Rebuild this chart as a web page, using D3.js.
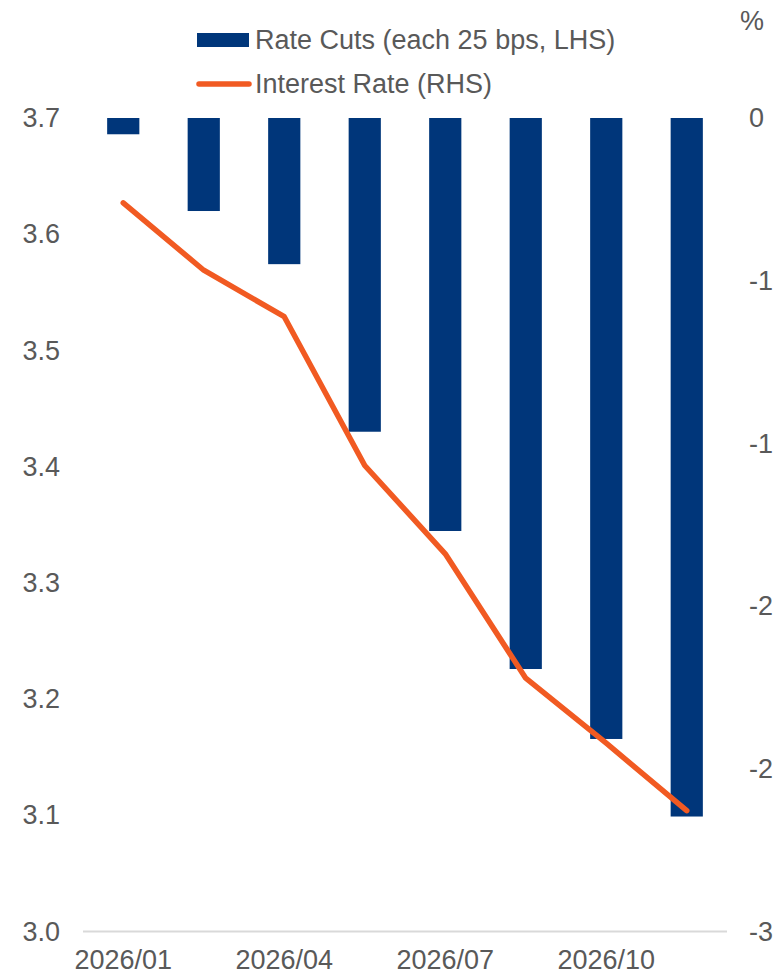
<!DOCTYPE html>
<html>
<head>
<meta charset="utf-8">
<script src="https://cdn.jsdelivr.net/npm/d3@7/dist/d3.min.js"></script>
<style>
  html, body { margin: 0; padding: 0; background: #fff; }
  svg text { font-family: "Liberation Sans", Arial, sans-serif; fill: #595959; }
</style>
</head>
<body>
<svg id="chart" width="780" height="975"></svg>
<script>
// Policy meeting dates (every other one is labelled on the axis)
const meetings = ["2026/01", "2026/03", "2026/04", "2026/06", "2026/07", "2026/09", "2026/10", "2026/12"];
// Cumulative rate cuts, counted in 25 bp steps (bars, hanging from 0)
const rateCuts = [-0.06, -0.343, -0.539, -1.157, -1.523, -2.032, -2.29, -2.576];
// Policy interest rate, % (line)
const interestRate = [3.627, 3.569, 3.529, 3.401, 3.325, 3.218, 3.162, 3.104];

const leftTicks = [3.0, 3.1, 3.2, 3.3, 3.4, 3.5, 3.6, 3.7];
const rightTicks = [0, -0.6, -1.2, -1.8, -2.4, -3.0];
const rightTickLabels = ["0", "-1", "-1", "-2", "-2", "-3"];

const seriesNames = ["Rate Cuts (each 25 bps, LHS)", "Interest Rate (RHS)"];

const BAR = "#00367a";
const LINE = "#f15a22";
const FONT = 27;

const svg = d3.select("#chart");
const plot = { left: 83, right: 727, top: 118, bottom: 931.5 };

const x = d3.scaleBand()
  .domain(meetings)
  .range([plot.left, plot.right])
  .paddingInner(0.6)
  .paddingOuter(0.3);

const yLeft = d3.scaleLinear().domain([3.0, 3.7]).range([plot.bottom, plot.top]);
const yRight = d3.scaleLinear().domain([-3, 0]).range([plot.bottom, plot.top]);

// Baseline along the bottom of the plot
svg.append("line")
  .attr("x1", plot.left).attr("x2", plot.right)
  .attr("y1", yLeft(3.0)).attr("y2", yLeft(3.0))
  .attr("stroke", "#d9d9d9").attr("stroke-width", 2);

// Left axis (interest rate levels)
const gLeft = svg.append("g")
  .attr("transform", `translate(${plot.left},0)`)
  .call(d3.axisLeft(yLeft).tickValues(leftTicks).tickFormat(d3.format(".1f")).tickSize(0).tickPadding(23));
gLeft.select(".domain").remove();
gLeft.selectAll("text").style("font-size", FONT + "px").attr("fill", "#595959");

// Right axis (cumulative cuts)
const gRight = svg.append("g")
  .attr("transform", `translate(${plot.right},0)`)
  .call(d3.axisRight(yRight).tickValues(rightTicks)
    .tickFormat((d, i) => rightTickLabels[i]).tickSize(0).tickPadding(22));
gRight.select(".domain").remove();
gRight.selectAll("text").style("font-size", FONT + "px").attr("fill", "#595959");

// Bottom axis: label every other meeting
const gBottom = svg.append("g")
  .attr("transform", `translate(0,${plot.bottom})`)
  .call(d3.axisBottom(x).tickValues(meetings.filter((d, i) => i % 2 === 0)).tickSize(0));
gBottom.select(".domain").remove();
gBottom.selectAll("text")
  .style("font-size", FONT + "px")
  .attr("fill", "#595959")
  .attr("y", 37.5)
  .attr("dy", 0);

// Bars
svg.append("g").selectAll("rect")
  .data(meetings)
  .join("rect")
  .attr("x", d => x(d))
  .attr("width", x.bandwidth())
  .attr("y", yRight(0))
  .attr("height", (d, i) => yRight(rateCuts[i]) - yRight(0))
  .attr("fill", BAR);

// Line
const line = d3.line()
  .x((d, i) => x(meetings[i]) + x.bandwidth() / 2)
  .y(d => yLeft(d));
svg.append("path")
  .datum(interestRate)
  .attr("d", line)
  .attr("fill", "none")
  .attr("stroke", LINE)
  .attr("stroke-width", 5.5)
  .attr("stroke-linecap", "round")
  .attr("stroke-linejoin", "round");

// Legend
const legend = svg.append("g");
legend.append("rect")
  .attr("x", 197).attr("y", 33).attr("width", 52).attr("height", 14)
  .attr("fill", BAR);
legend.append("text")
  .attr("x", 255).attr("y", 40).attr("dy", "0.35em")
  .style("font-size", FONT + "px")
  .text(seriesNames[0]);
legend.append("line")
  .attr("x1", 199).attr("x2", 249).attr("y1", 84).attr("y2", 84)
  .attr("stroke", LINE).attr("stroke-width", 5.5).attr("stroke-linecap", "round");
legend.append("text")
  .attr("x", 255).attr("y", 84).attr("dy", "0.35em")
  .style("font-size", FONT + "px")
  .text(seriesNames[1]);

// Unit marker above the right axis
svg.append("text")
  .attr("x", 740).attr("y", 30)
  .style("font-size", FONT + "px")
  .text("%");
</script>
</body>
</html>
